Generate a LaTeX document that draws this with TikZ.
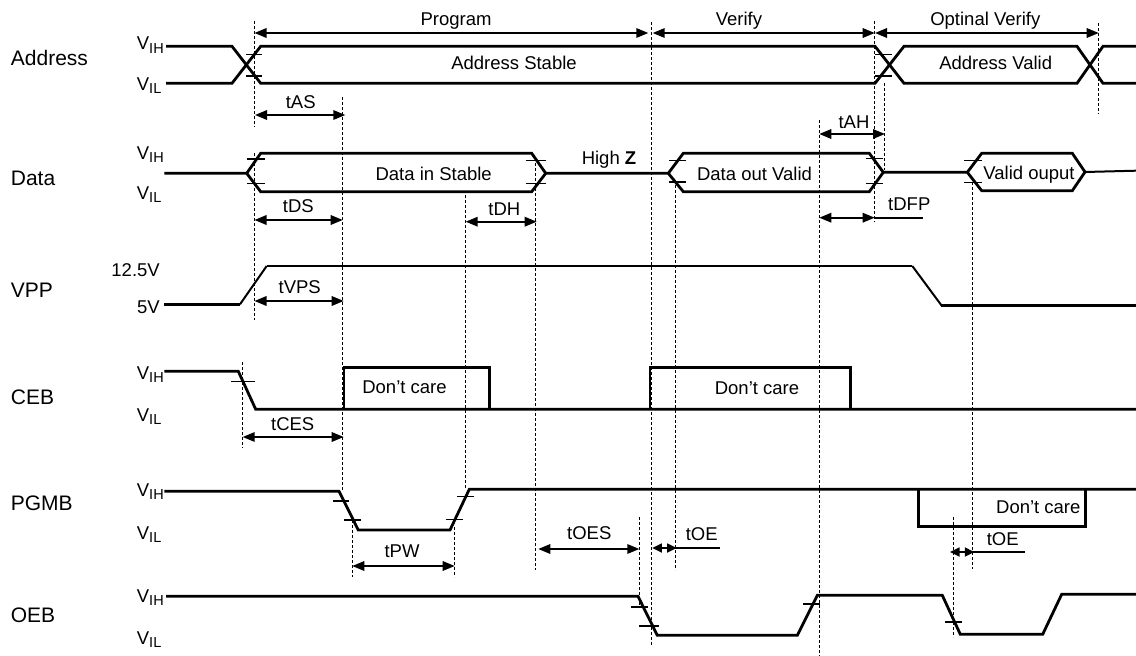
\documentclass[tikz,border=0pt]{standalone}
\usepackage{fontspec}
\setmainfont{Liberation Sans}
\usetikzlibrary{arrows.meta}
\tikzset{
  wave/.style={line width=2.8pt, line join=miter},
  slope/.style={line width=2pt},
  tick/.style={line width=1.4pt},
  guide/.style={line width=0.9pt, dash pattern=on 3pt off 2pt},
  span/.style={line width=1.7pt, {Triangle[length=12pt,width=9.5pt]}-{Triangle[length=12pt,width=9.5pt]}},
  shortspan/.style={line width=1.7pt, {Triangle[length=9.5pt,width=9pt]}-{Triangle[length=9.5pt,width=9pt]}},
  txt/.style={font=\fontsize{18.5}{20}\selectfont, inner sep=0pt, text height=13.2pt, text depth=0pt},
  rowname/.style={font=\fontsize{21}{23}\selectfont, inner sep=0pt, anchor=west, text height=15pt, text depth=0pt},
}
\newcommand{\vsub}[1]{V\raisebox{-3.3pt}{\fontsize{14.5}{15}\selectfont #1}}
\begin{document}
\begin{tikzpicture}[x=1pt, y=-1pt]
  \useasboundingbox (0,0) rectangle (1136,656);
  \fill[white] (0,0) rectangle (1136,656);
  % row names
  \foreach \n/\lab/\ly in {rowAddr/Address/58, rowData/Data/177.7, rowVpp/VPP/290, rowCeb/CEB/396.7, rowPgm/PGMB/503.3, rowOeb/OEB/615}{
    \node[rowname] (\n) at (10.7, \ly) {\lab};
  }
  % level labels
  \foreach \i/\ly in {1/43.3, 2/153, 3/372.7, 4/490, 5/596}{
    \node[txt, anchor=west] (vih\i) at (136.7, \ly) {\vsub{IH}};
  }
  \foreach \i/\ly in {1/84, 2/193, 3/415, 4/532.7, 5/638}{
    \node[txt, anchor=west] (vil\i) at (136.7, \ly) {\vsub{IL}};
  }
  \node[txt, anchor=east] (vpphigh) at (160, 270) {12.5V};
  \node[txt, anchor=east] (vpplow) at (160, 307.3) {5V};
  % guides
  \foreach \xg/\ya/\yb in {254.5/21/127, 254.5/153/320, 342.7/97/490, 242.7/362/448, 352.3/520/577,
      465.7/195/488, 535.5/163/570, 651/22/645, 675/185/570, 819.3/120/656, 874.7/21/222,
      884/83/170, 1098.7/23/114, 972.3/182/569, 953.3/517/637, 639.3/517/608, 454.7/527/577}{
    \draw[guide] (\xg, \ya) -- (\xg, \yb);
  }
  % Address
  \draw[wave] (166,46.3) -- (232,46.3) -- (260.7,83.3) -- (875,83.3) -- (904,46.3) -- (1077,46.3) -- (1103,83.3) -- (1136,83.3);
  \draw[wave] (166,83.3) -- (232,83.3) -- (260.7,46.3) -- (875,46.3) -- (904,83.3) -- (1077,83.3) -- (1103,46.3) -- (1136,46.3);
  % Data
  \draw[wave] (164.3,173.3) -- (246.7,173.3) -- (260.7,153.3) -- (531.7,153.3) -- (545.7,173.3) -- (531.7,191.7) -- (260.7,191.7) -- (246.7,173.3);
  \draw[wave] (545.7,173.3) -- (668.3,173.3) -- (683.3,153.3) -- (869.3,153.3) -- (883.3,172.3) -- (869.3,191.7) -- (683.3,191.7) -- (668.3,173.3);
  \draw[wave] (883.3,172.3) -- (967.3,172.3) -- (981.7,153.3) -- (1072.3,153.3) -- (1085,172) -- (1072.3,190.7) -- (981.7,190.7) -- (967.3,172.3);
  \draw[slope] (1085,172) -- (1136,170.7);
  % VPP
  \draw[wave] (164.3,304.3) -- (240,304.3);
  \draw[slope] (240,304.3) -- (266.7,266);
  \draw[wave] (267,266) -- (912.3,266);
  \draw[slope] (912.3,266) -- (941.7,305.7);
  \draw[wave] (941,305.7) -- (1136,305.7);
  % CEB
  \draw[wave] (164.3,371.3) -- (238.3,371.3) -- (255.7,409.3) -- (1136,409.3);
  \draw[wave] (344,409.3) -- (344,367.3) -- (489.3,367.3) -- (489.3,409.3);
  \draw[wave] (650,409.3) -- (650,367.3) -- (850.7,367.3) -- (850.7,409.3);
  % PGMB
  \draw[wave] (164.3,491.3) -- (339,491.3) -- (358.3,530) -- (450,530) -- (469.3,489.3) -- (1136,489.3);
  \draw[wave] (918.3,489.3) -- (918.3,526.7) -- (1085.7,526.7) -- (1085.7,489.3);
  % OEB
  \draw[wave] (166,596.3) -- (638,596.3) -- (657.3,635.3) -- (797.3,635.3) -- (817.3,595.3) -- (942.3,595.3) -- (960.3,634.3) -- (1042.7,634.3) -- (1061.7,594.3) -- (1136,594.3);
  % crossing ticks
  \foreach \xa/\xb/\yy in {246/262/54.7, 246/262/76, 875/892/54.7, 875/892/76,
      247/265/159, 247/265/183.7, 526/545.7/160.7, 526/545.7/183.7, 669/685.7/160.7, 669/685.7/182,
      866/882.7/158.7, 866/882.7/183.7, 964/981.7/160.7, 964/981.7/182.7,
      231/255/381.7, 333.3/349/501, 344/361/520, 457.3/474/496.7, 446/462.7/519.7,
      631/647.7/607, 639.3/658.7/626, 803.3/820/604, 945/961.7/622}{
    \draw[tick] (\xa, \yy) -- (\xb, \yy);
  }
  % spans
  \foreach \xa/\xb/\yy in {254.5/648.3/33, 652.7/874.7/33, 875/1098.7/33, 255/345.3/115, 254.5/342.7/220,
      465.7/536.7/221.7, 819.3/885/134, 819.3/874.7/217.7, 254.5/343.7/301, 242.7/343.7/437,
      352.3/454.7/566, 538.3/639.3/549}{
    \draw[span] (\xa, \yy) -- (\xb, \yy);
  }
  \draw[shortspan] (652.3,548) -- (676.7,548);
  \draw[shortspan] (950,552) -- (974.3,552);
  \draw[line width=1.7pt] (874,217.7) -- (923,217.7);
  \draw[line width=1.7pt] (675,548) -- (720,548);
  \draw[line width=1.7pt] (972,552) -- (1025,552);
  % texts
  \foreach \n/\lab/\lx/\ly in {lblProgram/Program/456/18.5, lblVerify/Verify/739/18.5, lblOptinal/Optinal Verify/985.3/18.5,
      lblAddrStable/Address Stable/514/63.3, lblAddrValid/Address Valid/995.7/63.3,
      lblDataIn/Data in Stable/433.7/173.7, lblDataOut/Data out Valid/754.5/173.7, lblValid/Valid ouput/1029/172.7,
      lblCare1/Don’t care/404.5/386.7, lblCare2/Don’t care/757/388.3, lblCare3/Don’t care/1038.3/506.7,
      lblAS/tAS/300.7/101.7, lblDS/tDS/298.3/206, lblDH/tDH/504.3/209.3, lblAH/tAH/854/122.3, lblDFP/tDFP/909.3/204.3,
      lblVPS/tVPS/299.7/287.3, lblCES/tCES/292.7/424.3, lblPW/tPW/402/551, lblOES/tOES/589.3/532.7,
      lblOE1/tOE/701.7/534.3, lblOE2/tOE/1002.7/538.7}{
    \node[txt] (\n) at (\lx, \ly) {\lab};
  }
  \node[txt] (lblHighZ) at (609, 158.3) {High \textbf{Z}};
\end{tikzpicture}
\end{document}
